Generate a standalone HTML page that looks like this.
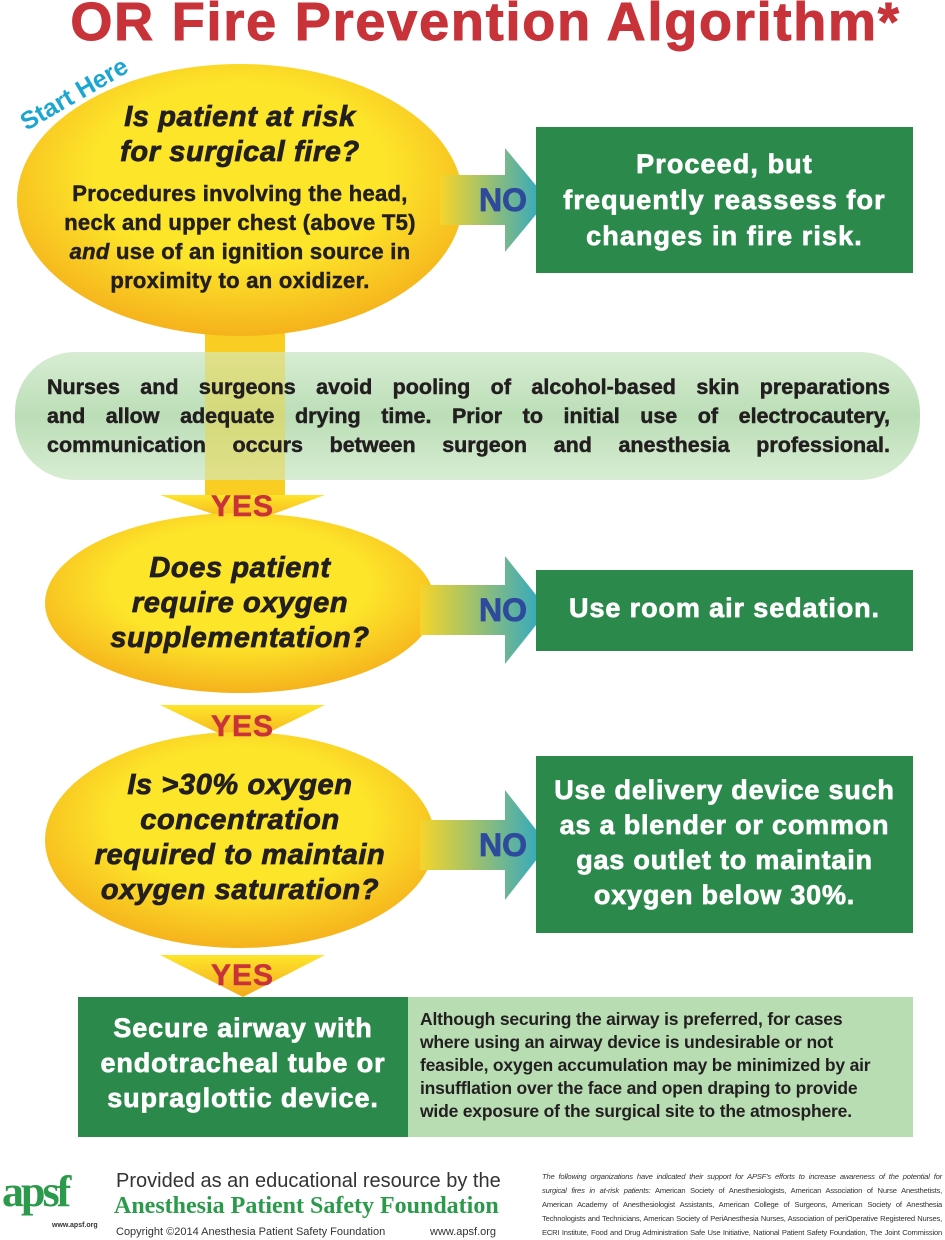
<!DOCTYPE html>
<html><head><meta charset="utf-8"><style>
body{margin:0;width:945px;height:1240px;background:#fff;position:relative;overflow:hidden;font-family:"Liberation Sans",sans-serif;}
.a{position:absolute;}
.t{text-align:center;font-weight:bold;color:#231f20;-webkit-text-stroke:0.5px currentColor;}
.q{font-style:italic;font-size:29px;line-height:35px;letter-spacing:0.6px;-webkit-text-stroke:0.8px currentColor;}
.w{color:#fff;font-weight:bold;text-align:center;-webkit-text-stroke:0.7px #fff;}
.j{display:block;text-align:justify;text-align-last:justify;}
.no{font-size:32px;font-weight:bold;color:#2e4a9c;-webkit-text-stroke:0.8px #2e4a9c;}
.yes{font-size:30px;color:#c8333a;letter-spacing:1px;}
</style></head><body>
<svg class="a" style="left:0;top:0" width="945" height="1240">
<defs>
<radialGradient id="yel" cx="50%" cy="40%" r="60%"><stop offset="0.55" stop-color="#fde52a"/><stop offset="1" stop-color="#f5b21c"/></radialGradient>
<linearGradient id="arr" x1="0" x2="1"><stop offset="0" stop-color="#f6d52a"/><stop offset="1" stop-color="#27a6c9"/></linearGradient>
<linearGradient id="yes" x1="0" y1="0" x2="0" y2="1"><stop offset="0" stop-color="#fde52a"/><stop offset="1" stop-color="#f5a81c"/></linearGradient>
<linearGradient id="band" x1="0" y1="0" x2="0" y2="1"><stop offset="0" stop-color="#d4ebcf"/><stop offset="0.5" stop-color="#b5dbb0"/><stop offset="1" stop-color="#d4ebcf"/></linearGradient>
</defs>
<rect x="205" y="300" width="80" height="200" fill="#f9cd22"/>
<rect x="15" y="352" width="905" height="128" rx="60" fill="url(#band)" opacity="0.92"/>
<rect x="205" y="352" width="80" height="128" fill="#e8d95a" opacity="0.55"/>
<ellipse cx="240" cy="200" rx="223" ry="136" fill="url(#yel)"/>
<polygon points="440,175 505,175 505,148 548,200 505,252 505,225 440,225" fill="url(#arr)"/>
<polygon points="160,495 325,495 243,525" fill="url(#yes)"/>
<ellipse cx="240" cy="603" rx="195" ry="90" fill="url(#yel)"/>
<polygon points="420,585 505,585 505,556 548,610 505,664 505,635 420,635" fill="url(#arr)"/>
<polygon points="160,705 325,705 243,745" fill="url(#yes)"/>
<ellipse cx="240" cy="840" rx="195" ry="108" fill="url(#yel)"/>
<polygon points="420,820 505,820 505,790 548,845 505,900 505,870 420,870" fill="url(#arr)"/>
<polygon points="160,955 325,955 243,997" fill="url(#yes)"/>
<rect x="536" y="127" width="377" height="146" fill="#2b8a4b"/>
<rect x="536" y="570" width="377" height="81" fill="#2b8a4b"/>
<rect x="536" y="756" width="377" height="177" fill="#2b8a4b"/>
<rect x="78" y="997" width="330" height="140" fill="#2b8a4b"/>
<rect x="408" y="997" width="505" height="140" fill="#b8ddb3"/>
</svg>
<div class="a t" style="left:13px;top:-9px;width:945px;font-size:54px;color:#c8333a;letter-spacing:1.8px;white-space:nowrap;-webkit-text-stroke:1px #c8333a">OR Fire Prevention Algorithm*</div>
<div class="a" style="left:30px;top:108px;font-size:25px;font-weight:bold;color:#1aa6d0;transform:rotate(-30deg);transform-origin:left bottom;white-space:nowrap">Start Here</div>
<div class="a t q" style="left:20px;top:100px;width:440px;white-space:nowrap">Is patient at risk<br>for surgical fire?</div>
<div class="a t" style="left:20px;top:179px;width:440px;font-size:22px;line-height:29px;letter-spacing:0.3px;white-space:nowrap">Procedures involving the head,<br>neck and upper chest (above T5)<br><i>and</i> use of an ignition source in<br>proximity to an oxidizer.</div>
<div class="a no" style="left:479px;top:182px">NO</div>
<div class="a w" style="left:536px;top:146px;width:377px;font-size:27px;line-height:36px;letter-spacing:1.1px;white-space:nowrap">Proceed, but<br>frequently reassess for<br>changes in fire risk.</div>
<div class="a t" style="left:47px;top:373px;width:843px;font-size:21.5px;line-height:29px;letter-spacing:0px"><span class="j">Nurses and surgeons avoid pooling of alcohol-based skin preparations</span><span class="j">and allow adequate drying time. Prior to initial use of electrocautery,</span><span class="j">communication occurs between surgeon and anesthesia professional.</span></div>
<div class="a t yes" style="left:160px;top:490px;width:165px">YES</div>
<div class="a t q" style="left:40px;top:551px;width:400px;white-space:nowrap">Does patient<br>require oxygen<br>supplementation?</div>
<div class="a no" style="left:479px;top:592px">NO</div>
<div class="a w" style="left:536px;top:593px;width:377px;font-size:27px;letter-spacing:0.9px;white-space:nowrap">Use room air sedation.</div>
<div class="a t yes" style="left:160px;top:710px;width:165px">YES</div>
<div class="a t q" style="left:40px;top:768px;width:400px;white-space:nowrap">Is &gt;30% oxygen<br>concentration<br>required to maintain<br>oxygen saturation?</div>
<div class="a no" style="left:479px;top:827px">NO</div>
<div class="a w" style="left:536px;top:773px;width:377px;font-size:27px;line-height:35px;letter-spacing:0.8px;white-space:nowrap">Use delivery device such<br>as a blender or common<br>gas outlet to maintain<br>oxygen below 30%.</div>
<div class="a t yes" style="left:160px;top:959px;width:165px">YES</div>
<div class="a w" style="left:78px;top:1011px;width:330px;font-size:27px;line-height:35px;letter-spacing:0.9px;white-space:nowrap">Secure airway with<br>endotracheal tube or<br>supraglottic device.</div>
<div class="a" style="left:420px;top:1008px;width:488px;font-size:17.5px;line-height:23px;font-weight:bold;color:#231f20;white-space:nowrap;letter-spacing:-0.2px">Although securing the airway is preferred, for cases<br>where using an airway device is undesirable or not<br>feasible, oxygen accumulation may be minimized by air<br>insufflation over the face and open draping to provide<br>wide exposure of the surgical site to the atmosphere.</div>
<div class="a" style="left:2px;top:1166px;font-family:'Liberation Serif',serif;font-size:44px;font-weight:bold;color:#2b9a4b;letter-spacing:-3px">apsf</div>
<div class="a" style="left:52px;top:1222px;font-size:7px;font-weight:bold;color:#333">www.apsf.org</div>
<div class="a" style="left:116px;top:1170px;font-size:20px;color:#333;white-space:nowrap">Provided as an educational resource by the</div>
<div class="a" style="left:114px;top:1193px;font-family:'Liberation Serif',serif;font-size:24px;font-weight:bold;color:#2b9a4b;white-space:nowrap">Anesthesia Patient Safety Foundation</div>
<div class="a" style="left:116px;top:1226px;font-size:11px;color:#333;white-space:nowrap">Copyright ©2014 Anesthesia Patient Safety Foundation</div>
<div class="a" style="left:430px;top:1226px;font-size:11px;color:#333">www.apsf.org</div>
<div class="a" style="left:542px;top:1170px;width:400px;font-size:7.6px;line-height:14px;color:#333;letter-spacing:-0.2px"><span class="j"><i>The following organizations have indicated their support for APSF's efforts to increase awareness of the potential for</i></span><span class="j"><i>surgical fires in at-risk patients:</i> American Society of Anesthesiologists, American Association of Nurse Anesthetists,</span><span class="j">American Academy of Anesthesiologist Assistants, American College of Surgeons, American Society of Anesthesia</span><span class="j">Technologists and Technicians, American Society of PeriAnesthesia Nurses, Association of periOperative Registered Nurses,</span><span class="j">ECRI Institute, Food and Drug Administration Safe Use Initiative, National Patient Safety Foundation, The Joint Commission</span></div>
</body></html>
